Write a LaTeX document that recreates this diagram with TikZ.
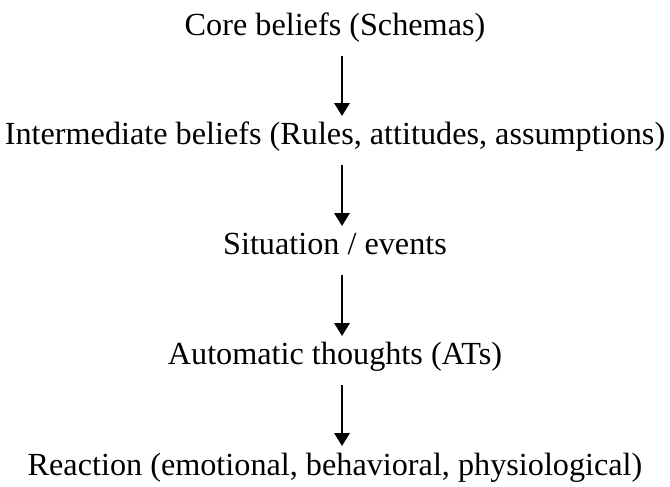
\documentclass[tikz,border=0pt]{standalone}
\usepackage{fontspec}
\setmainfont{Liberation Serif}
\usetikzlibrary{arrows.meta}

\begin{document}
\begin{tikzpicture}[font=\fontsize{27.5}{33}\selectfont]
\tikzset{level/.style={shape=rectangle,inner sep=0pt,anchor=base},
  flow/.style={-{Triangle[width=13pt,length=11pt]},line width=1.8pt}}
\useasboundingbox (0,0) rectangle (20.1,14.58);
\node(core)[level] at (10.05,13.50){Core beliefs (Schemas)};
\node(inter)[level] at (10.05,10.23){Intermediate beliefs (Rules, attitudes, assumptions)};
\node(sit)[level] at (10.05,6.93){Situation / events};
\node(auto)[level] at (10.05,3.63){Automatic thoughts (ATs)};
\node(react)[level] at (10.05,0.33){Reaction (emotional, behavioral, physiological)};
\draw[flow] ([shift={(0.21,-0.6)}]core.base)--([shift={(0.21,0.87)}]inter.base);
\draw[flow] ([shift={(0.21,-0.6)}]inter.base)--([shift={(0.21,0.87)}]sit.base);
\draw[flow] ([shift={(0.21,-0.6)}]sit.base)--([shift={(0.21,0.87)}]auto.base);
\draw[flow] ([shift={(0.21,-0.6)}]auto.base)--([shift={(0.21,0.87)}]react.base);
\end{tikzpicture}
\end{document}
